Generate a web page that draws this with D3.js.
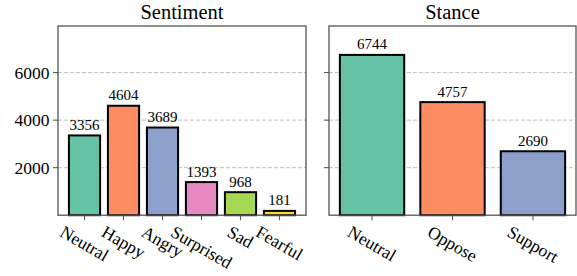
<!DOCTYPE html>
<html>
<head>
<meta charset="utf-8">
<script src="https://cdn.jsdelivr.net/npm/d3@7"></script>
<style>
  body { margin: 0; background: #fff; }
  text { font-family: "Liberation Serif", "Times New Roman", Times, serif; }
  .grid line { stroke: #b8b8b8; stroke-width: 0.9; stroke-dasharray: 4,2; }
  .spine { fill: none; stroke: #555; stroke-width: 1.3; }
  .tick-mark { stroke: #555; stroke-width: 1.1; }
</style>
</head>
<body>
<svg width="577" height="276"></svg>
<script>
const sentimentCats = ['Neutral', 'Happy', 'Angry', 'Surprised', 'Sad', 'Fearful']
const sentimentVals = [3356, 4604, 3689, 1393, 968, 181]
const stanceCats = ['Neutral', 'Oppose', 'Support']
const stanceVals = [6744, 4757, 2690]
const yTicks = [2000, 4000, 6000]
const colors = ['#66c2a5', '#fc8d62', '#8da0cb', '#e78ac3', '#a6d854', '#ffd92f']

const Y_MAX = 7960
const TOP = 26
const BOTTOM = 215.2

const svg = d3.select('svg').attr('font-family', '"Liberation Serif", "Times New Roman", serif')

const y = d3.scaleLinear().domain([0, Y_MAX]).range([BOTTOM, TOP])

const drawPanel = (opts) => {
  const {title, cats, vals, left, right, margin, showLabels} = opts
  const x = d3.scaleLinear()
    .domain([-margin, cats.length - 1 + margin])
    .range([left, right])
  const bw = x(0.4) - x(0)
  const g = svg.append('g')

  // grid
  g.append('g').classed('grid', true)
    .selectAll('line').data(yTicks).join('line')
    .attr('x1', left).attr('x2', right)
    .attr('y1', d => y(d)).attr('y2', d => y(d))

  // bars
  g.selectAll('rect.bar').data(vals).join('rect')
    .classed('bar', true)
    .attr('x', (d, i) => x(i) - bw)
    .attr('width', bw * 2)
    .attr('y', d => y(d))
    .attr('height', d => y(0) - y(d))
    .attr('fill', (d, i) => colors[i])
    .attr('stroke', '#000')
    .attr('stroke-width', 2)

  // value labels
  g.selectAll('text.val').data(vals).join('text')
    .classed('val', true)
    .attr('x', (d, i) => x(i))
    .attr('y', d => y(d) - 5.5)
    .attr('text-anchor', 'middle')
    .attr('font-size', 15)
    .text(d => d)

  // frame
  g.append('rect').classed('spine', true)
    .attr('x', left).attr('y', TOP)
    .attr('width', right - left).attr('height', BOTTOM - TOP)

  // y ticks
  g.selectAll('line.ytick').data(yTicks).join('line')
    .classed('tick-mark', true)
    .attr('x1', left - 5).attr('x2', left)
    .attr('y1', d => y(d)).attr('y2', d => y(d))
  if (showLabels) {
    g.selectAll('text.ylab').data(yTicks).join('text')
      .attr('x', left - 8.5)
      .attr('y', d => y(d))
      .attr('dy', '0.35em')
      .attr('text-anchor', 'end')
      .attr('font-size', 17.5)
      .text(d => d)
  }

  // x ticks
  g.selectAll('line.xtick').data(cats).join('line')
    .classed('tick-mark', true)
    .attr('x1', (d, i) => x(i)).attr('x2', (d, i) => x(i))
    .attr('y1', BOTTOM).attr('y2', BOTTOM + 5)

  // rotated category labels, bbox centred under the tick
  g.selectAll('text.xlab').data(cats).join('text')
    .attr('font-size', 17.5)
    .attr('text-anchor', 'middle')
    .attr('dominant-baseline', 'central')
    .text(d => d)
    .attr('transform', function (d, i) {
      const w = this.getComputedTextLength()
      const h = 17.5 * 0.95
      const bh = w * 0.5 + h * 0.866
      return `translate(${x(i)},${BOTTOM + 8 + bh / 2}) rotate(30)`
    })

  // title
  g.append('text')
    .attr('x', (left + right) / 2)
    .attr('y', 18.5)
    .attr('text-anchor', 'middle')
    .attr('font-size', 20.5)
    .text(title)
}

drawPanel({title: 'Sentiment', cats: sentimentCats, vals: sentimentVals,
  left: 58, right: 306, margin: 0.68, showLabels: true})
drawPanel({title: 'Stance', cats: stanceCats, vals: stanceVals,
  left: 329, right: 576, margin: 0.535, showLabels: false})
</script>
</body>
</html>
